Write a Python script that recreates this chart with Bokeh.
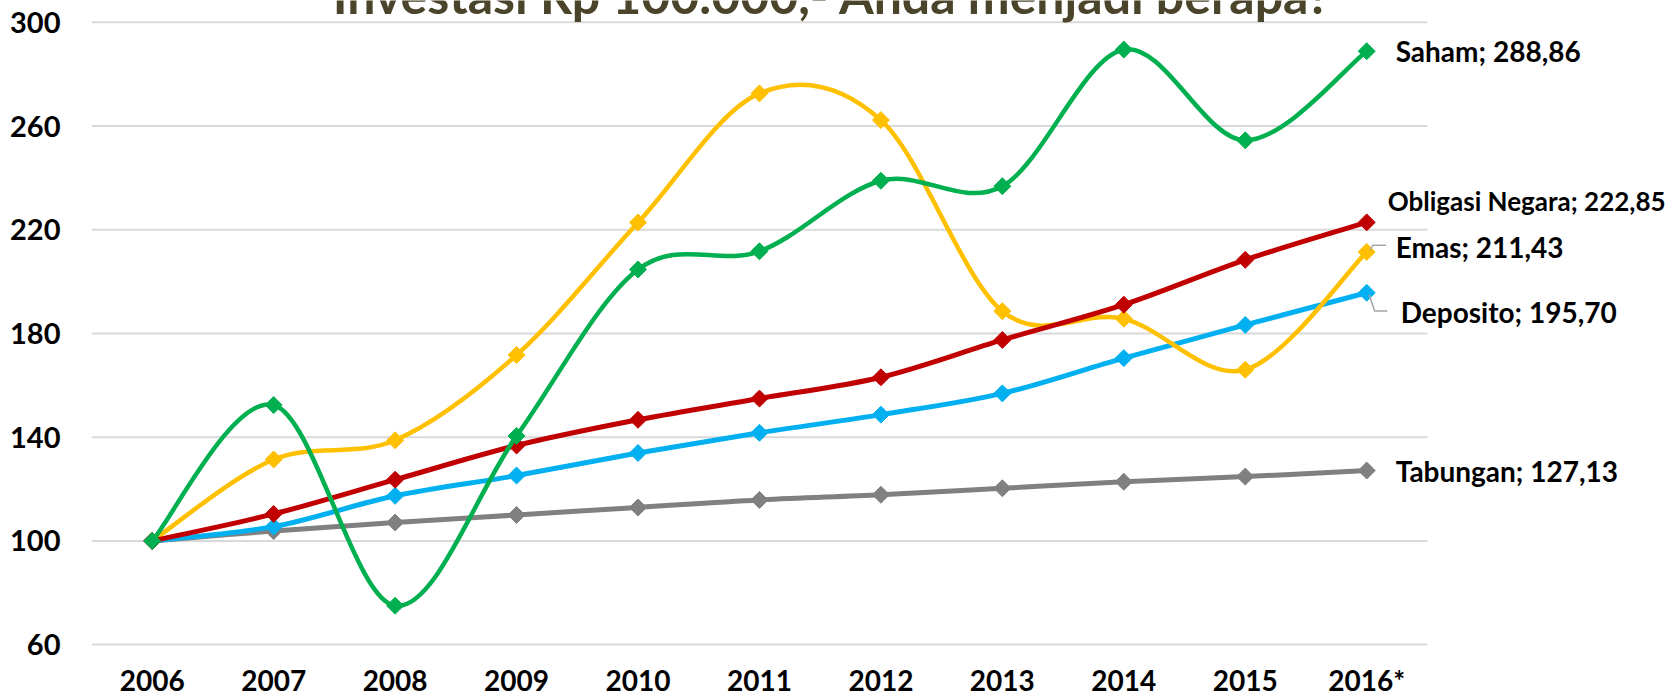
import numpy as np
from bokeh.plotting import figure
from bokeh.models import Range1d, FixedTicker, Label
from bokeh.embed import file_html
from bokeh.resources import INLINE

# ---- data ----
years = ["2006", "2007", "2008", "2009", "2010", "2011", "2012", "2013", "2014", "2015", "2016*"]
saham = [100, 152.4, 75.0, 140.5, 204.7, 211.7, 238.9, 236.8, 289.5, 254.5, 288.86]
emas = [100, 131.4, 138.8, 171.7, 222.8, 272.6, 262.3, 188.6, 185.7, 166.0, 211.43]
obligasi = [100, 110.4, 123.6, 136.8, 146.7, 154.9, 163.1, 177.5, 191.1, 208.4, 222.85]
deposito = [100, 105.5, 117.4, 125.2, 133.9, 141.7, 148.7, 156.9, 170.5, 183.3, 195.70]
tabungan = [100, 103.8, 107.1, 110.0, 112.9, 115.8, 117.8, 120.3, 122.8, 124.8, 127.13]
y_ticks = [60, 100, 140, 180, 220, 260, 300]
title_text = "Investasi Rp 100.000,- Anda menjadi berapa?"

FONT = "Lato"
n = len(years)
xs = np.arange(n, dtype=float)
x_lo, x_hi = -0.5, n - 0.5

p = figure(width=1676, height=699, output_backend="svg", toolbar_location=None,
           x_range=Range1d(x_lo, 12.551), y_range=Range1d(58.50, 308.43),
           min_border_left=91, min_border_right=0, min_border_top=0, min_border_bottom=50)
p.outline_line_color = None
p.background_fill_color = "white"
p.border_fill_color = "white"

# axes
p.xaxis.ticker = FixedTicker(ticks=list(range(n)))
p.xaxis.major_label_overrides = {i: y for i, y in enumerate(years)}
p.yaxis.ticker = FixedTicker(ticks=y_ticks)
for ax in (p.xaxis[0], p.yaxis[0]):
    ax.axis_line_color = None
    ax.major_tick_line_color = None
    ax.minor_tick_line_color = None
    ax.major_label_text_font = FONT
    ax.major_label_text_font_style = "bold"
    ax.major_label_text_color = "black"
p.xaxis.major_label_text_font_size = "28px"
p.yaxis.major_label_text_font_size = "29px"
p.xaxis.major_label_standoff = 8
p.yaxis.major_label_standoff = 25
p.xgrid.grid_line_color = None
p.ygrid.grid_line_color = None

# horizontal gridlines limited to the category area
p.segment(x0=[x_lo] * len(y_ticks), x1=[x_hi] * len(y_ticks), y0=y_ticks, y1=y_ticks,
          line_color="#D9D9D9", line_width=2)


def smooth(vals, color, width):
    y = np.asarray(vals, dtype=float)
    m = len(y)
    x0, y0, x1, y1, cx0, cy0, cx1, cy1 = [], [], [], [], [], [], [], []
    for i in range(m - 1):
        a = max(i - 1, 0)
        d = min(i + 2, m - 1)
        x0.append(xs[i]); y0.append(y[i])
        x1.append(xs[i + 1]); y1.append(y[i + 1])
        cx0.append(xs[i] + (xs[i + 1] - xs[a]) / 6.0)
        cy0.append(y[i] + (y[i + 1] - y[a]) / 6.0)
        cx1.append(xs[i + 1] - (xs[d] - xs[i]) / 6.0)
        cy1.append(y[i + 1] - (y[d] - y[i]) / 6.0)
    p.bezier(x0=x0, y0=y0, x1=x1, y1=y1, cx0=cx0, cy0=cy0, cx1=cx1, cy1=cy1,
             line_color=color, line_width=width)
    p.scatter(xs, y, marker="square", angle=np.pi / 4, size=12,
              fill_color=color, line_color=color)


series = [
    ("Tabungan", tabungan, "#808080", 5),
    ("Deposito", deposito, "#00B0F0", 5),
    ("Emas", emas, "#FFC000", 4.5),
    ("Obligasi Negara", obligasi, "#C00000", 5),
    ("Saham", saham, "#00B050", 4.5),
]
for name, vals, color, w in series:
    smooth(vals, color, w)

# leader lines for the two shifted labels
LEAD = "#A6A6A6"
p.line(x=[xs[-1] + 0.03, xs[-1] + 0.05, xs[-1] + 0.16],
       y=[emas[-1] + 0.8, emas[-1] + 2.6, emas[-1] + 2.6], line_color=LEAD, line_width=1.5)
p.line(x=[xs[-1] + 0.02, xs[-1] + 0.066, xs[-1] + 0.17],
       y=[deposito[-1] - 0.8, deposito[-1] - 7.0, deposito[-1] - 7.0], line_color=LEAD, line_width=1.5)

# data labels at last point (pixel offsets, font size)
label_style = {
    "Saham": (29, 0, 28),
    "Obligasi Negara": (21, 21, 26),
    "Emas": (29, 5, 28),
    "Deposito": (34, -19, 28),
    "Tabungan": (29, 0, 28),
}
for name, vals, color, w in series:
    dx, dy, fs = label_style[name]
    txt = f"{name}; {vals[-1]:.2f}".replace(".", ",")
    p.add_layout(Label(x=float(xs[-1]), y=float(vals[-1]), x_offset=dx, y_offset=dy, text=txt,
                       text_font=FONT, text_font_style="bold",
                       text_font_size=f"{fs}px", text_color="black",
                       text_align="left", text_baseline="middle"))

# title (cropped at the top as in the original)
p.add_layout(Label(x=5.6, y=310.36, text=title_text, text_font=FONT,
                   text_font_style="bold", text_font_size="50px", text_color="#4A452A",
                   text_align="center", text_baseline="alphabetic"))

open("out.html", "w").write(file_html(p, INLINE))
